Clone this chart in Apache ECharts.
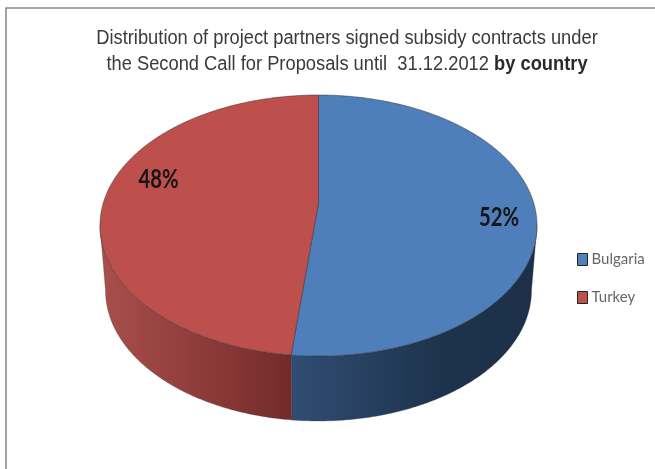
<!DOCTYPE html>
<html><head><meta charset="utf-8">
<style>html,body{margin:0;padding:0;background:#fff}#c{width:655px;height:469px;filter:blur(0.55px)}</style>
<script src="https://cdn.jsdelivr.net/npm/echarts@6/dist/echarts.min.js"></script>
</head><body><div id="c"></div>
<script>
const categories = ['Bulgaria', 'Turkey'];
const values = [52, 48];
const valueLabels = ['52%', '48%'];
const titleLine1 = 'Distribution of project partners signed subsidy contracts under';
const titleLine2 = 'the Second Call for Proposals until  31.12.2012 ';
const titleBold = 'by country';

const topColors = ['#4f81bd', '#c0504d'];
const topColorsRender = ['#4e7fbb', '#bd4f4c'];
const sideStops = [
  [[0, '#304d73'], [0.62, '#1d324c'], [1, '#1c3049']],
  [[0, '#a94f4c'], [0.5, '#8f3d3b'], [1, '#742a2a']]
];
const labelPos = [[499, 218], [158.5, 179.5]];
const PIE = {cx: 318.5, cy: 225.5, rx: 218.5, ry: 130.5, depth: 65, rxBottom: 213, apexY: 203};

const total = values.reduce((a, b) => a + b, 0);
function px(a, dy, rx) { return [PIE.cx + rx * Math.sin(a), PIE.cy - PIE.ry * Math.cos(a) + dy]; }
function arc(a0, a1, dy, rx) {
  const n = Math.max(2, Math.ceil(Math.abs(a1 - a0) / 0.01)), out = [];
  for (let i = 0; i <= n; i++) out.push(px(a0 + (a1 - a0) * i / n, dy, rx));
  return out;
}
const starts = [];
values.reduce((acc, v, i) => { starts[i] = acc; return acc + v; }, 0);

function makeRender(i) {
  return function () {
    const a0 = starts[i] / total * 2 * Math.PI;
    const a1 = (starts[i] + values[i]) / total * 2 * Math.PI;
    const children = [];
    const s0 = Math.max(a0, Math.PI / 2), s1 = Math.min(a1, 3 * Math.PI / 2);
    if (s1 > s0) {
      children.push({
        type: 'polygon',
        shape: {points: arc(s0, s1, 0, PIE.rx).concat(arc(s1, s0, PIE.depth, PIE.rxBottom))},
        style: {
          fill: new echarts.graphic.LinearGradient(0, 0, 1, 0,
            sideStops[i].map(s => ({offset: s[0], color: s[1]}))),
          stroke: '#3a3a3a', lineWidth: 0.3
        }
      });
    }
    children.push({
      type: 'polygon',
      shape: {points: [[PIE.cx, PIE.apexY]].concat(arc(a0, a1, 0, PIE.rx))},
      style: {fill: topColorsRender[i], stroke: '#333', lineWidth: 0.5}
    });
    children.push({
      type: 'text', x: labelPos[i][0], y: labelPos[i][1], scaleX: 0.78,
      style: {
        x: 0, y: 0, text: valueLabels[i],
        fill: '#151515', font: 'bold 26px Lato', align: 'center', verticalAlign: 'middle'
      }
    });
    return {type: 'group', children};
  };
}

const chart = echarts.init(document.getElementById('c'), null, {renderer: 'canvas'});
chart.setOption({
  animation: false,
  backgroundColor: '#fff',
  color: topColors,
  legend: {
    data: categories, orient: 'vertical', left: 572, top: 247, itemWidth: 10, itemHeight: 12,
    itemGap: 23, icon: 'rect',
    itemStyle: {borderColor: '#222', borderWidth: 1},
    textStyle: {fontFamily: 'Lato', fontSize: 15, color: '#666', padding: [0, 0, 0, -1]}
  },
  graphic: [{
    type: 'polyline', silent: true,
    shape: {points: [[6, 469], [6, 8], [655, 8]]},
    style: {stroke: '#8a8a8a', lineWidth: 1.6, fill: 'none'}
  }, {
    type: 'text', silent: true, x: 347, y: 51.5, scaleX: 0.915,
    style: {
      x: 0, y: 0, align: 'center', verticalAlign: 'middle',
      text: '{n|' + titleLine1 + '}\n{n|' + titleLine2 + '}{b|' + titleBold + '}',
      rich: {
        n: {fontFamily: 'Liberation Sans', fontSize: 20, fontWeight: 'normal', fill: '#3a3a3a', lineHeight: 26},
        b: {fontFamily: 'Liberation Sans', fontSize: 20, fontWeight: 'bold', fill: '#2a2a2a', lineHeight: 26}
      }
    }
  }],
  series: categories.map((name, i) => ({
    type: 'custom', name, coordinateSystem: 'none', renderItem: makeRender(i),
    data: [values[i]], silent: true
  }))
});
</script></body></html>
